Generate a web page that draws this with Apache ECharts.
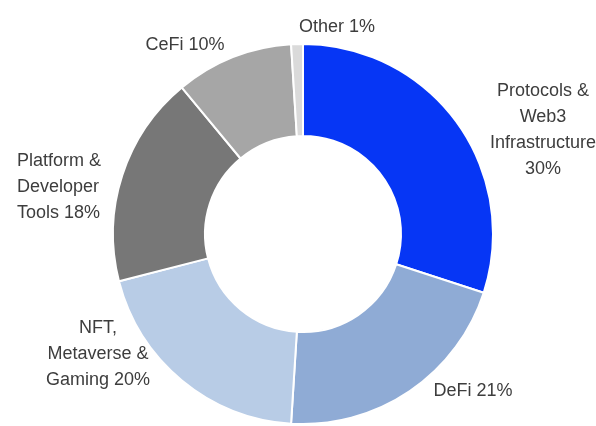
<!DOCTYPE html>
<html>
<head>
<meta charset="utf-8">
<script src="https://cdn.jsdelivr.net/npm/echarts@6/dist/echarts.min.js"></script>
<style>
  html, body { margin: 0; padding: 0; background: #fff; }
  #chart { width: 596px; height: 426px; }
</style>
</head>
<body>
<div id="chart"></div>
<script>
  // slices, clockwise from 12 o'clock
  const categories = [
    'Protocols &\nWeb3\nInfrastructure',
    'DeFi',
    'NFT,\nMetaverse &\nGaming',
    'Platform &\nDeveloper\nTools',
    'CeFi',
    'Other',
  ];
  const shares = [30, 21, 20, 18, 10, 1];
  const sliceColors = ['#0636f5', '#8fabd5', '#b8cce6', '#777777', '#a6a6a6', '#dadada'];

  // where each label sits (text block centre, except Platform which is left-aligned)
  const labelPos = [
    { x: 543, y: 130, align: 'center' },
    { x: 473, y: 391, align: 'center' },
    { x: 98, y: 354, align: 'center' },
    { x: 17, y: 187, align: 'left' },
    { x: 185, y: 45, align: 'center' },
    { x: 337, y: 27, align: 'center' },
  ];
  const valueSep = ['\n', ' ', ' ', ' ', ' ', ' '];

  const chart = echarts.init(document.getElementById('chart'), null, { renderer: 'canvas' });

  const option = {
    animation: false,
    backgroundColor: '#fff',
    series: [
      {
        type: 'pie',
        center: [303, 234],
        radius: [98, 190],
        startAngle: 90,
        clockwise: true,
        avoidLabelOverlap: false,
        data: categories.map((name, i) => ({
          name: name,
          value: shares[i],
          itemStyle: { color: sliceColors[i] },
        })),
        itemStyle: { borderColor: '#fff', borderWidth: 2 },
        label: {
          show: true,
          position: 'outside',
          fontFamily: '"Liberation Sans", Arial, sans-serif',
          fontSize: 18,
          lineHeight: 26,
          color: '#3d3d3d',
          formatter: (p) => p.name + valueSep[p.dataIndex] + p.value + '%',
        },
        labelLine: { show: false },
        labelLayout: (params) => {
          const pos = labelPos[params.dataIndex];
          return {
            x: pos.x,
            y: pos.y,
            align: pos.align,
            verticalAlign: 'middle',
            hideOverlap: false,
          };
        },
        emphasis: { disabled: true },
      },
    ],
  };

  chart.setOption(option);
</script>
</body>
</html>
